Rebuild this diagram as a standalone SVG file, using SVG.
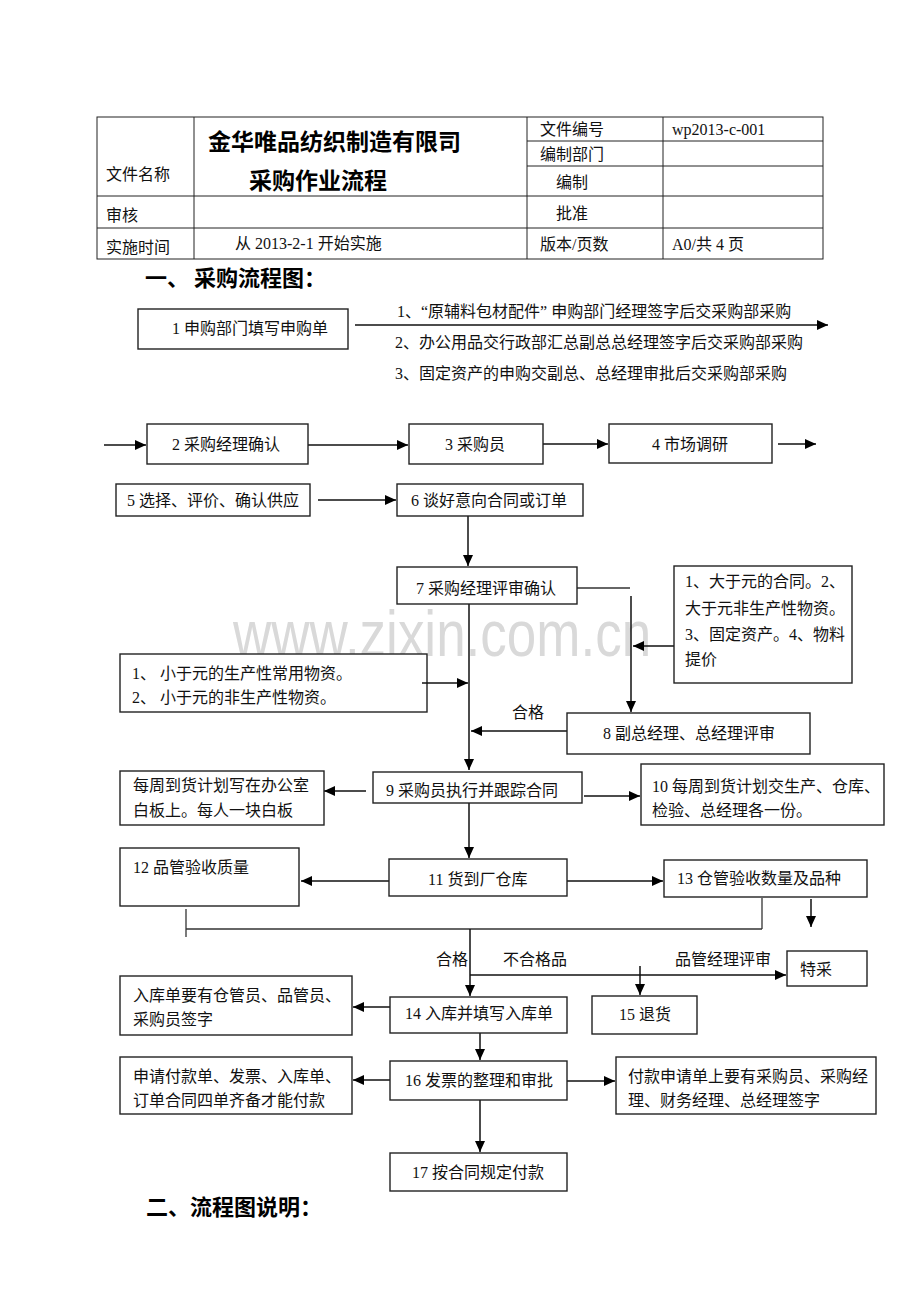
<svg xmlns="http://www.w3.org/2000/svg" width="920" height="1302" viewBox="0 0 920 1302">
<style>
.t{font-family:"Liberation Serif","Noto Sans CJK SC",serif;font-size:16px;fill:#111}
.h{font-family:"Noto Sans CJK SC",sans-serif;font-weight:bold;fill:#000}
.box{fill:#fff;stroke:#222;stroke-width:1.4}
.cell{fill:none;stroke:#222;stroke-width:1}
.ln{fill:none;stroke:#111;stroke-width:1.5}
.ln2{fill:none;stroke:#333;stroke-width:1.3}
.wm{font-family:"Liberation Sans",Arial,sans-serif;font-size:53px;fill:#d9d9d9}
</style>
<defs>
<marker id="ar" markerUnits="userSpaceOnUse" markerWidth="12" markerHeight="10" refX="11" refY="5" orient="auto">
<path d="M0,0 L11,5 L0,10 Z" fill="#000"/>
</marker>
</defs>
<rect width="920" height="1302" fill="#fff"/>

<g id="header">
<rect x="97" y="117" width="726" height="142" class="cell"/>
<line x1="194" y1="117" x2="194" y2="259" class="cell"/>
<line x1="527" y1="117" x2="527" y2="259" class="cell"/>
<line x1="663" y1="117" x2="663" y2="259" class="cell"/>
<line x1="527" y1="141" x2="823" y2="141" class="cell"/>
<line x1="527" y1="166" x2="823" y2="166" class="cell"/>
<line x1="97" y1="196" x2="823" y2="196" class="cell"/>
<line x1="97" y1="228" x2="823" y2="228" class="cell"/>
<text class="t" x="106" y="180">文件名称</text>
<text class="t" x="106" y="221">审核</text>
<text class="t" x="106" y="253">实施时间</text>
<text class="t" x="235" y="249">从 2013-2-1 开始实施</text>
<text class="h" x="208" y="150" font-size="23">金华唯品纺织制造有限司</text>
<text class="h" x="249" y="189" font-size="23">采购作业流程</text>
<text class="t" x="540" y="135">文件编号</text>
<text class="t" x="540" y="160">编制部门</text>
<text class="t" x="556" y="188">编制</text>
<text class="t" x="556" y="219">批准</text>
<text class="t" x="540" y="250">版本/页数</text>
<text class="t" x="672" y="135">wp2013-c-001</text>
<text class="t" x="672" y="250">A0/共 4 页</text>
</g>

<text class="h" x="145" y="286" font-size="22">一、 采购流程图：</text>

<text class="wm" transform="translate(233,656) scale(1,1.22)" x="0" y="0">www.zixin.com.cn</text>

<g id="connectors">
<line x1="355" y1="325" x2="828" y2="325" class="ln" marker-end="url(#ar)"/>
<line x1="104" y1="445" x2="146" y2="445" class="ln" marker-end="url(#ar)"/>
<line x1="308" y1="445" x2="408" y2="445" class="ln" marker-end="url(#ar)"/>
<line x1="543" y1="444" x2="608" y2="444" class="ln" marker-end="url(#ar)"/>
<line x1="778" y1="444" x2="816" y2="444" class="ln" marker-end="url(#ar)"/>
<line x1="318" y1="500" x2="396" y2="500" class="ln" marker-end="url(#ar)"/>
<line x1="468" y1="516" x2="468" y2="566" class="ln" marker-end="url(#ar)"/>
<line x1="577" y1="588" x2="630" y2="588" class="ln2"/>
<line x1="631" y1="596" x2="631" y2="712" class="ln" marker-end="url(#ar)"/>
<line x1="674" y1="646" x2="633" y2="646" class="ln" marker-end="url(#ar)"/>
<line x1="469" y1="600" x2="469" y2="770" class="ln" marker-end="url(#ar)"/>
<line x1="567" y1="731" x2="471" y2="731" class="ln" marker-end="url(#ar)"/>
<line x1="366" y1="791" x2="324" y2="791" class="ln" marker-end="url(#ar)"/>
<line x1="584" y1="796" x2="640" y2="796" class="ln" marker-end="url(#ar)"/>
<line x1="469" y1="803" x2="469" y2="858" class="ln" marker-end="url(#ar)"/>
<line x1="389" y1="881" x2="301" y2="881" class="ln" marker-end="url(#ar)"/>
<line x1="567" y1="881" x2="663" y2="881" class="ln" marker-end="url(#ar)"/>
<line x1="186" y1="909" x2="186" y2="937" class="ln2"/>
<line x1="186" y1="929" x2="762" y2="929" class="ln2"/>
<line x1="762" y1="898" x2="762" y2="929" class="ln2"/>
<line x1="811" y1="899" x2="811" y2="927" class="ln" marker-end="url(#ar)"/>
<line x1="470" y1="929" x2="470" y2="996" class="ln" marker-end="url(#ar)"/>
<line x1="470" y1="975" x2="786" y2="975" class="ln" marker-end="url(#ar)"/>
<line x1="640" y1="966" x2="640" y2="995" class="ln" marker-end="url(#ar)"/>
<line x1="390" y1="1007" x2="353" y2="1007" class="ln" marker-end="url(#ar)"/>
<line x1="480" y1="1033" x2="480" y2="1060" class="ln" marker-end="url(#ar)"/>
<line x1="390" y1="1080" x2="353" y2="1080" class="ln" marker-end="url(#ar)"/>
<line x1="567" y1="1081" x2="615" y2="1081" class="ln" marker-end="url(#ar)"/>
<line x1="480" y1="1100" x2="480" y2="1152" class="ln" marker-end="url(#ar)"/>
<text class="t" x="397" y="317">1、“原辅料包材配件” 申购部门经理签字后交采购部采购</text>
<text class="t" x="395" y="348">2、办公用品交行政部汇总副总总经理签字后交采购部采购</text>
<text class="t" x="395" y="379">3、固定资产的申购交副总、总经理审批后交采购部采购</text>
<text class="t" x="512" y="718">合格</text>
<text class="t" x="436" y="965">合格</text>
<text class="t" x="503" y="965">不合格品</text>
<text class="t" x="675" y="965">品管经理评审</text>
</g>

<g id="n1"><rect x="138" y="309" width="210" height="40" class="box"/><text class="t" x="172" y="334">1 申购部门填写申购单</text></g>
<g id="n2"><rect x="147" y="424" width="161" height="40" class="box"/><text class="t" x="172" y="450">2 采购经理确认</text></g>
<g id="n3"><rect x="409" y="424" width="134" height="40" class="box"/><text class="t" x="445" y="450">3 采购员</text></g>
<g id="n4"><rect x="609" y="424" width="163" height="39" class="box"/><text class="t" x="652" y="450">4 市场调研</text></g>
<g id="n5"><rect x="116" y="484" width="194" height="32" class="box"/><text class="t" x="127" y="506">5 选择、评价、确认供应</text></g>
<g id="n6"><rect x="397" y="484" width="186" height="32" class="box"/><text class="t" x="411" y="506">6 谈好意向合同或订单</text></g>
<g id="n7"><rect x="397" y="567" width="180" height="37" class="box"/><text class="t" x="416" y="594">7 采购经理评审确认</text></g>
<g id="n7a"><rect x="674" y="566" width="178" height="117" class="box"/>
<text class="t" x="685" y="587">1、大于元的合同。2、</text>
<text class="t" x="685" y="614">大于元非生产性物资。</text>
<text class="t" x="685" y="640">3、固定资产。4、物料</text>
<text class="t" x="685" y="665">提价</text></g>
<g id="n7b"><rect x="120" y="654" width="307" height="58" class="box"/>
<text class="t" x="132" y="679">1、 小于元的生产性常用物资。</text>
<text class="t" x="132" y="703">2、 小于元的非生产性物资。</text></g>
<line x1="422" y1="683" x2="468" y2="683" class="ln" marker-end="url(#ar)"/>
<g id="n8"><rect x="567" y="713" width="243" height="41" class="box"/><text class="t" x="603" y="739">8 副总经理、总经理评审</text></g>
<g id="n9"><rect x="373" y="772" width="209" height="31" class="box"/><text class="t" x="386" y="796">9 采购员执行并跟踪合同</text></g>
<g id="n9a"><rect x="120" y="771" width="204" height="54" class="box"/>
<text class="t" x="133" y="791">每周到货计划写在办公室</text>
<text class="t" x="133" y="816">白板上。每人一块白板</text></g>
<g id="n10"><rect x="641" y="764" width="243" height="61" class="box"/>
<text class="t" x="652" y="792">10 每周到货计划交生产、仓库、</text>
<text class="t" x="652" y="816">检验、总经理各一份。</text></g>
<g id="n11"><rect x="389" y="859" width="178" height="37" class="box"/><text class="t" x="428" y="885">11 货到厂仓库</text></g>
<g id="n12"><rect x="120" y="848" width="179" height="58" class="box"/><text class="t" x="133" y="873">12 品管验收质量</text></g>
<g id="n13"><rect x="664" y="860" width="203" height="37" class="box"/><text class="t" x="677" y="884">13 仓管验收数量及品种</text></g>
<g id="n_tecai"><rect x="787" y="951" width="80" height="35" class="box"/><text class="t" x="800" y="975">特采</text></g>
<g id="n14"><rect x="390" y="997" width="177" height="36" class="box"/><text class="t" x="405" y="1019">14 入库并填写入库单</text></g>
<g id="n14a"><rect x="120" y="976" width="232" height="59" class="box"/>
<text class="t" x="133" y="1001">入库单要有仓管员、品管员、</text>
<text class="t" x="133" y="1025">采购员签字</text></g>
<g id="n15"><rect x="592" y="996" width="105" height="38" class="box"/><text class="t" x="619" y="1020">15 退货</text></g>
<g id="n16"><rect x="390" y="1061" width="177" height="39" class="box"/><text class="t" x="405" y="1086">16 发票的整理和审批</text></g>
<g id="n16a"><rect x="120" y="1057" width="232" height="57" class="box"/>
<text class="t" x="133" y="1082">申请付款单、发票、入库单、</text>
<text class="t" x="133" y="1106">订单合同四单齐备才能付款</text></g>
<g id="n16b"><rect x="616" y="1057" width="260" height="57" class="box"/>
<text class="t" x="628" y="1082">付款申请单上要有采购员、采购经</text>
<text class="t" x="628" y="1106">理、财务经理、总经理签字</text></g>
<g id="n17"><rect x="390" y="1153" width="177" height="38" class="box"/><text class="t" x="412" y="1178">17 按合同规定付款</text></g>

<text class="h" x="146" y="1215" font-size="22">二、流程图说明：</text>
</svg>
